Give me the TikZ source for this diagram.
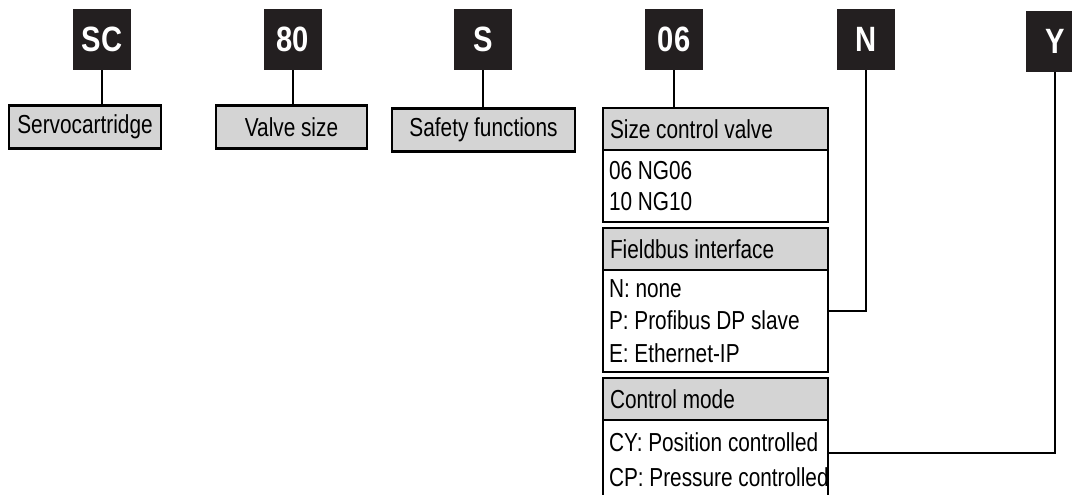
\documentclass[tikz,border=0pt]{standalone}
\usepackage{fontspec}
\usepackage{tikz}
\usetikzlibrary{
    calc,
    positioning
}
\newfontfamily\condsans[FakeStretch=0.8]{Liberation Sans}
\newfontfamily\codesans[FakeStretch=0.83]{Liberation Sans}
\newcommand{\boxfont}{\condsans\fontsize{18.5}{22}\selectfont\spaceskip=0.22em plus 0.05em}
\definecolor{boxgray}{RGB}{212,212,212}
\definecolor{codeblack}{RGB}{35,31,32}
\tikzset{
    every picture/.style = {
        line width = 1.8pt
    },
    every node/.style = {
        inner sep = 0pt,
        outer sep = 0pt
    },
    codebox/.style = {
        fill = codeblack,
        text = white,
        minimum width = 1.45cm,
        minimum height = 1.525cm,
        font = \codesans\bfseries\fontsize{25}{25}\selectfont
    },
    labelbox/.style = {
        draw,
        fill = boxgray,
        minimum height = 1.075cm,
        font = \boxfont
    },
    headbox/.style = {
        draw,
        fill = boxgray,
        inner xsep = 0.175cm,
        text width = 5.275cm,
        align = flush left,
        minimum height = 1.05cm,
        font = \boxfont
    },
    bodybox/.style = {
        draw,
        fill = white,
        inner xsep = 0.15cm,
        text width = 5.325cm,
        align = flush left,
        minimum height = #1,
        font = \boxfont
    }
}

\begin{document}
\begin{tikzpicture}[x = 0.025cm, y = -0.025cm, node distance = 0cm]

    \path[use as bounding box, clip] (0, 0) rectangle (1072, 494);

    % code letters
    \node[codebox] (sc) at (102, 39.5) {SC};
    \node[codebox] (eighty) at (293, 39.5) {80};
    \node[codebox] (s) at (483, 39.5) {S};
    \node[codebox] (ng) at (674, 39.5) {06};
    \node[codebox] (n) at (866, 39.5) {N};
    \node[codebox] (y) at (1055, 41.5) {Y};

    % single boxes
    \node[labelbox, minimum width = 3.8cm] (servo) at (85, 127) {Servocartridge};
    \node[labelbox, minimum width = 3.775cm] (valve) at (291.5, 127) {Valve size};
    \node[labelbox, minimum width = 4.575cm] (safety) at (483.5, 130) {Safety functions};

    % stacked column
    \node[headbox, anchor = north west] (sizehead) at (603, 108) {Size control valve};
    \node[bodybox = 1.8cm, below = of sizehead] (sizebody) {06 NG06\\10 NG10};
    \node[headbox, below = 0.15cm of sizebody] (bushead) {Fieldbus interface};
    \node[bodybox = 2.55cm, below = of bushead] (busbody) {N: none\\[1pt] P: Profibus DP slave\\[1pt] E: Ethernet-IP};
    \node[headbox, below = 0.15cm of busbody] (modehead) {Control mode};
    \node[bodybox = 2cm, below = of modehead] (modebody) {\mbox{CY: Position controlled}\\[3pt] \mbox{CP: Pressure controlled}};

    \draw (sc.south) -- (sc.south |- servo.north);
    \draw (eighty.south) -- (eighty.south |- valve.north);
    \draw (s.south) -- (s.south |- safety.north);
    \draw (ng.south) -- (ng.south |- sizehead.north);
    \draw (n.south) |- ([yshift = 0.25cm]busbody.east);
    \draw (y.south) |- ([yshift = 0.175cm]modebody.east);

\end{tikzpicture}
\end{document}
